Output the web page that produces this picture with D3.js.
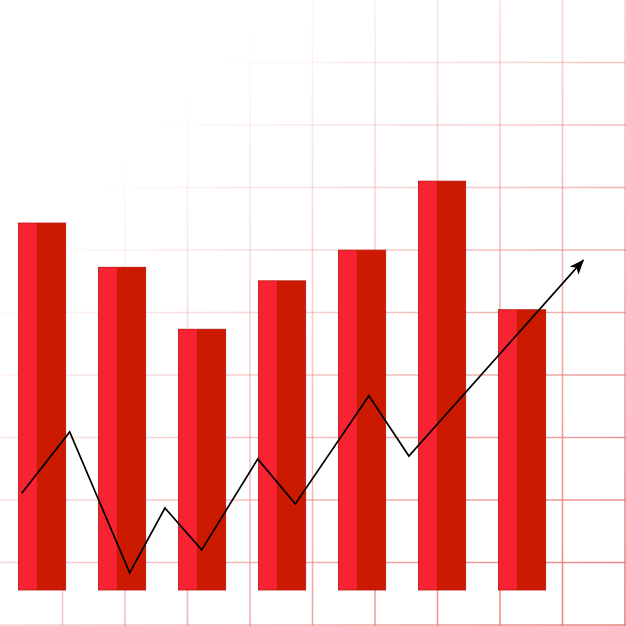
<!DOCTYPE html>
<html><head><meta charset="utf-8">
<script src="https://cdn.jsdelivr.net/npm/d3@7"></script>
<style>html,body{margin:0;padding:0;background:#fff;}svg{display:block;}</style>
</head><body>
<script>
// Data
const categories = ["A","B","C","D","E","F","G"];
const barValues = [62.2, 54.7, 44.2, 52.4, 57.6, 69.3, 47.5];
const lineX = [0.24, 0.84, 1.59, 2.03, 2.49, 3.19, 3.66, 4.58, 5.08, 7.26];
const lineY = [16.4, 26.8, 2.9, 13.9, 6.8, 22.2, 14.6, 32.9, 22.7, 55.9];
const gridTicks = [1,2,3,4,5,6,7,8,9,10];

const W = 626, H = 626;
const svg = d3.select("body").append("svg").attr("width", W).attr("height", H);

const x = d3.scaleLinear().domain([0, 7]).range([2.5, 562.5]);
const y = d3.scaleLinear().domain([0, 100]).range([590, 0]);
const g = d3.scaleLinear().domain([0, 10]).range([0, 625]);

const defs = svg.append("defs");
const grad = defs.append("linearGradient").attr("id","gridGrad")
  .attr("gradientUnits","userSpaceOnUse").attr("x1",0).attr("y1",0).attr("x2",W).attr("y2",H);
grad.append("stop").attr("offset","0.22").attr("stop-color","#e77f7f").attr("stop-opacity",0);
grad.append("stop").attr("offset","0.55").attr("stop-color","#e77f7f").attr("stop-opacity",0.45);
grad.append("stop").attr("offset","1").attr("stop-color","#e77f7f").attr("stop-opacity",1);

defs.append("marker").attr("id","arrow").attr("viewBox","0 0 15 12")
  .attr("refX",14).attr("refY",6).attr("markerWidth",15).attr("markerHeight",12)
  .attr("markerUnits","userSpaceOnUse").attr("orient","auto")
  .append("path").attr("d","M0,0 L15,6 L0,12 L4,6 Z").attr("fill","#000");

// Grid
const grid = svg.append("g").attr("stroke","url(#gridGrad)").attr("stroke-width",1.6);
grid.selectAll("line.v").data(gridTicks).join("line").attr("class","v")
  .attr("x1", d=>g(d)).attr("x2", d=>g(d)).attr("y1",0).attr("y2",H);
grid.selectAll("line.h").data(gridTicks).join("line").attr("class","h")
  .attr("y1", d=>g(d)).attr("y2", d=>g(d)).attr("x1",0).attr("x2",W);

// Bars
const bw = 0.59, lightFrac = 0.38;
const bars = svg.append("g").selectAll("g").data(barValues).join("g");
bars.append("rect")
  .attr("x",(d,i)=>x(i+0.2)).attr("y",d=>y(d))
  .attr("width", x(bw)-x(0)).attr("height", d=>y(0)-y(d))
  .attr("fill","#cc1a00").attr("stroke","#b3120a").attr("stroke-width",0.8);
bars.append("rect")
  .attr("x",(d,i)=>x(i+0.2)+0.4).attr("y",d=>y(d)+0.4)
  .attr("width", (x(bw)-x(0))*lightFrac).attr("height", d=>y(0)-y(d)-0.8)
  .attr("fill","#f82332");

// Line
const pts = lineX.map((v,i)=>[v, lineY[i]]);
svg.append("path").datum(pts)
  .attr("d", d3.line().x(d=>x(d[0])).y(d=>y(d[1])))
  .attr("fill","none").attr("stroke","#000").attr("stroke-width",1.7)
  .attr("stroke-linejoin","miter").attr("marker-end","url(#arrow)");
</script>
</body></html>
